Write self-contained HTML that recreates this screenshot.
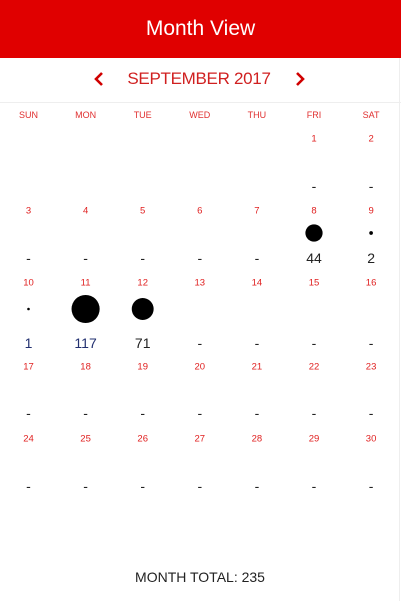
<!DOCTYPE html>
<html><head><meta charset="utf-8"><style>
body{margin:0;width:401px;height:601px;background:#fff;font-family:"Liberation Sans",sans-serif;position:relative;overflow:hidden}
.a{position:absolute;transform:translate(-50%,-50%);white-space:nowrap}
#hdr{position:absolute;left:0;top:0;width:401px;height:58px;background:#e00000;color:#fff;font-size:21px;text-align:center;line-height:58px}
</style></head><body>
<div id="hdr">Month View</div>
<svg style="position:absolute;left:93px;top:71px" width="12" height="16"><polyline points="9,2 3,8 9,14" fill="none" stroke="#d00000" stroke-width="2.6"/></svg>
<div class="a" style="left:199px;top:79px;color:#d02020;font-size:17px;letter-spacing:-0.3px">SEPTEMBER 2017</div>
<svg style="position:absolute;left:294px;top:71px" width="12" height="16"><polyline points="3,2 9,8 3,14" fill="none" stroke="#d00000" stroke-width="2.6"/></svg>
<div style="position:absolute;left:0;top:102px;width:401px;height:1px;background:#eee"></div>
<div style="position:absolute;left:399px;top:58px;width:1px;height:543px;background:#eee"></div>
<div class="a" style="left:200px;top:577px;font-size:14px;color:#222">MONTH TOTAL: 235</div>
<svg id="cal" width="401" height="601" style="position:absolute;left:0;top:0"></svg>
<script>
const weekdays=["SUN","MON","TUE","WED","THU","FRI","SAT"];
const days=[1,2,3,4,5,6,7,8,9,10,11,12,13,14,15,16,17,18,19,20,21,22,23,24,25,26,27,28,29,30];
const values=[null,null,null,null,null,null,null,44,2,1,117,71,null,null,null,null,null,null,null,null,null,null,null,null,null,null,null,null,null,null];
const firstWeekday=5;
const rowDateY=[139,211,283,367,439];
const rowValY=[186,258,343,413,486];
const rowCircY=[163,233,309,390,462];
const ns="http://www.w3.org/2000/svg";
const svg=document.getElementById('cal');
const colX=i=>28.5+i*57.1;
const rad=v=>1.3*Math.sqrt(v);
function txt(x,y,s,size,fill,name){const t=document.createElementNS(ns,'text');
t.setAttribute('x',x);t.setAttribute('y',y);t.setAttribute('text-anchor','middle');t.setAttribute('dominant-baseline','central');
t.setAttribute('font-size',size);t.setAttribute('fill',fill);t.setAttribute('font-family','Liberation Sans, sans-serif');t.textContent=s;


svg.appendChild(t);}
weekdays.forEach((w,i)=>txt(colX(i),115,w,9,'#e03030','weekday-'+w.toLowerCase()));
days.forEach((d,k)=>{const p=k+firstWeekday,c=p%7,r=Math.floor(p/7);
txt(colX(c),rowDateY[r],d,9.5,'#e02020','date-'+d);
const v=values[k];
if(v!=null){const ci=document.createElementNS(ns,'circle');
ci.setAttribute('cx',colX(c));ci.setAttribute('cy',rowCircY[r]);ci.setAttribute('r',rad(v));ci.setAttribute('fill','#000');


svg.appendChild(ci);}
txt(colX(c),rowValY[r],v==null?'-':v,14,(v===1||v===117)?'#223070':'#222','value-day-'+d);});
</script>
</body></html>
